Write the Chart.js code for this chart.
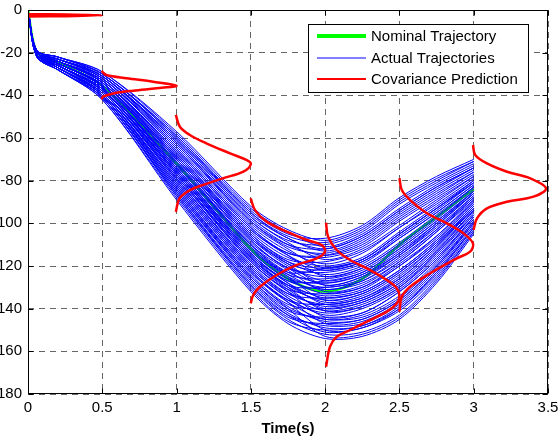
<!DOCTYPE html>
<html>
<head>
<meta charset="utf-8">
<script src="https://cdn.jsdelivr.net/npm/chart.js@4.4.1/dist/chart.umd.min.js"></script>
<style>
  html, body { margin: 0; padding: 0; background: #fff; overflow: hidden; width: 559px; height: 438px; }
  #wrap { position: absolute; left: -10px; top: 0; }
</style>
</head>
<body>
<div id="wrap"><canvas id="chart" width="569" height="438"></canvas></div>
<script>
// series names, as in the legend
var seriesNames = ["Nominal Trajectory", "Actual Trajectories", "Covariance Prediction"];

// shared time grid (s) for the nominal and the actual runs
var timeSteps = [0, 0.06, 0.2, 0.5, 1.0, 1.5, 1.75, 2.0, 2.25, 2.5, 2.75, 3.0];

var nominal = [0, -20, -24.5, -35.5, -72, -112, -126, -132, -126, -110, -97, -84];

// one row per Monte Carlo run
var actualRuns = [
  [0,-19,-22,-29,-57,-92,-103,-108,-102,-89,-79,-71],
  [0,-19,-22,-30,-59,-94,-105,-107,-101,-88,-78,-70],
  [0,-19,-22,-30,-60,-95,-107,-112,-106,-94,-83,-74],
  [0,-19,-23,-31,-61,-97,-108,-110,-104,-91,-81,-72],
  [0,-20,-23,-31,-62,-98,-110,-115,-110,-98,-87,-76],
  [0,-20,-23,-31,-63,-99,-111,-114,-108,-96,-85,-75],
  [0,-20,-23,-32,-64,-101,-113,-119,-114,-102,-91,-79],
  [0,-20,-24,-32,-65,-102,-114,-116,-111,-99,-88,-77],
  [0,-20,-24,-33,-66,-103,-115,-122,-118,-106,-94,-81],
  [0,-20,-24,-33,-67,-104,-116,-120,-116,-104,-92,-80],
  [0,-20,-24,-33,-68,-105,-118,-124,-120,-109,-96,-83],
  [0,-20,-24,-34,-69,-106,-119,-122,-118,-107,-95,-82],
  [0,-20,-24,-34,-69,-107,-120,-127,-123,-112,-99,-85],
  [0,-20,-24,-34,-70,-108,-121,-125,-121,-110,-97,-83],
  [0,-20,-25,-35,-70,-109,-121,-129,-125,-114,-101,-86],
  [0,-20,-25,-35,-71,-110,-123,-128,-124,-113,-100,-85],
  [0,-20,-25,-35,-72,-111,-124,-131,-127,-117,-103,-88],
  [0,-21,-25,-36,-73,-112,-125,-130,-126,-115,-102,-87],
  [0,-21,-25,-36,-74,-113,-126,-133,-130,-119,-106,-89],
  [0,-21,-25,-36,-74,-114,-127,-131,-128,-118,-104,-88],
  [0,-21,-25,-36,-75,-114,-128,-135,-132,-122,-108,-91],
  [0,-21,-26,-37,-76,-115,-129,-134,-131,-120,-107,-90],
  [0,-21,-26,-37,-76,-116,-129,-137,-134,-124,-110,-92],
  [0,-21,-26,-37,-77,-117,-130,-136,-133,-123,-109,-92],
  [0,-21,-26,-37,-78,-118,-132,-139,-136,-127,-112,-94],
  [0,-21,-26,-38,-79,-119,-133,-138,-135,-126,-111,-93],
  [0,-21,-26,-38,-79,-120,-134,-141,-138,-129,-114,-95],
  [0,-21,-26,-38,-80,-121,-135,-143,-140,-131,-116,-97],
  [0,-21,-27,-39,-81,-122,-136,-142,-139,-130,-115,-96],
  [0,-21,-27,-39,-82,-123,-137,-145,-143,-134,-118,-98],
  [0,-21,-27,-40,-83,-125,-139,-146,-145,-136,-120,-99],
  [0,-22,-27,-40,-84,-126,-140,-145,-144,-135,-119,-99],
  [0,-22,-27,-40,-85,-127,-142,-149,-148,-139,-123,-102],
  [0,-22,-28,-41,-86,-129,-143,-148,-147,-138,-122,-101],
  [0,-22,-28,-41,-87,-130,-145,-152,-151,-143,-126,-104],
  [0,-22,-28,-42,-89,-132,-147,-154,-153,-145,-128,-105],
  [0,-19,-23,-30,-60,-96,-107,-113,-107,-95,-84,-74],
  [0,-20,-24,-34,-68,-106,-118,-121,-117,-105,-93,-80],
  [0,-21,-26,-37,-77,-117,-131,-140,-137,-128,-113,-94],
  [0,-22,-27,-41,-86,-128,-143,-151,-149,-141,-125,-103],
  [0,-19,-22,-29,-58,-93,-104,-111,-105,-93,-82,-73],
  [0,-19,-22,-30,-59,-95,-106,-109,-103,-90,-80,-71],
  [0,-19,-23,-31,-61,-97,-109,-117,-112,-101,-89,-78],
  [0,-20,-23,-31,-62,-99,-110,-112,-106,-94,-83,-74],
  [0,-20,-23,-32,-63,-100,-112,-121,-117,-105,-93,-81],
  [0,-20,-23,-32,-65,-102,-114,-115,-109,-97,-86,-76],
  [0,-20,-24,-33,-66,-103,-115,-125,-121,-110,-97,-83],
  [0,-20,-24,-33,-67,-105,-117,-118,-113,-102,-90,-78],
  [0,-20,-24,-34,-69,-107,-119,-129,-125,-115,-101,-86],
  [0,-20,-24,-34,-70,-108,-121,-123,-119,-107,-95,-82],
  [0,-20,-25,-35,-71,-110,-122,-132,-129,-118,-104,-89],
  [0,-20,-25,-35,-72,-111,-124,-126,-122,-111,-98,-84],
  [0,-21,-25,-36,-73,-112,-125,-136,-133,-123,-109,-92],
  [0,-21,-25,-36,-74,-113,-126,-128,-124,-114,-100,-86],
  [0,-21,-25,-36,-75,-115,-128,-138,-136,-126,-111,-93],
  [0,-21,-26,-37,-76,-116,-129,-130,-127,-116,-103,-87],
  [0,-21,-26,-37,-76,-116,-130,-141,-139,-130,-114,-96],
  [0,-21,-26,-37,-77,-118,-131,-133,-130,-120,-106,-90],
  [0,-21,-26,-38,-78,-118,-132,-144,-142,-132,-117,-97],
  [0,-21,-26,-38,-79,-120,-133,-135,-132,-122,-108,-91],
  [0,-21,-26,-38,-80,-121,-135,-147,-146,-137,-121,-100],
  [0,-21,-26,-39,-81,-122,-136,-138,-135,-125,-110,-93],
  [0,-21,-27,-39,-82,-123,-137,-150,-149,-140,-124,-102],
  [0,-21,-27,-39,-83,-124,-138,-140,-137,-128,-113,-94],
  [0,-21,-27,-40,-84,-125,-140,-153,-152,-144,-127,-104],
  [0,-22,-27,-40,-85,-126,-141,-144,-142,-132,-117,-97],
  [0,-22,-28,-41,-87,-129,-144,-147,-145,-136,-120,-100],
  [0,-22,-28,-42,-88,-131,-146,-150,-148,-140,-123,-102],
  [0,-20,-25,-35,-72,-110,-123,-121,-117,-105,-93,-81],
  [0,-21,-25,-36,-75,-114,-127,-127,-123,-112,-99,-85]
];

// covariance prediction curves (time, value) at t = 0, 0.5, 1, 1.5, 2, 2.5, 3
var cov0t = [0, 0.26, 0.5, 0.26, 0];
var cov0y = [-2.0, -2.1, -2.5, -2.9, -3.0];
var cov05t = [0.495, 0.528, 0.663, 0.842, 1.0, 0.865, 0.708, 0.573, 0.505, 0.495];
var cov05y = [-28.6, -30.5, -32.0, -33.6, -35.5, -36.7, -37.8, -39.1, -40.6, -41.9];
var cov1t = [0.995, 1.022, 1.09, 1.20, 1.36, 1.47, 1.50, 1.45, 1.31, 1.18, 1.09, 1.02, 0.995];
var cov1y = [-49.2, -54.7, -58.6, -62.5, -67.2, -70.3, -72.2, -75.8, -78.9, -82, -84.4, -88.3, -94.6];
var cov15t = [1.499, 1.528, 1.606, 1.741, 1.876, 1.977, 1.999, 1.943, 1.809, 1.674, 1.561, 1.516, 1.499];
var cov15y = [-88.3, -93.8, -99.2, -103.9, -107.8, -110.2, -113.3, -116.4, -119.5, -124.2, -129.7, -133.6, -137.5];
var cov2t = [2.006, 2.02, 2.078, 2.168, 2.303, 2.415, 2.483, 2.5, 2.483, 2.415, 2.28, 2.168, 2.078, 2.033, 2.006];
var cov2y = [-99.7, -106.3, -112.5, -117.2, -121.9, -126.6, -130.5, -134.4, -137.5, -141.4, -146.1, -150, -153.2, -157.8, -167.2];
var cov25t = [2.5, 2.516, 2.572, 2.685, 2.819, 2.931, 2.995, 2.976, 2.887, 2.707, 2.572, 2.516, 2.5];
var cov25y = [-78.9, -84.4, -89.1, -95.3, -100, -104.7, -109.4, -113.3, -116.4, -123.4, -129.7, -134.4, -141.4];
var cov3t = [2.995, 3.01, 3.089, 3.224, 3.381, 3.487, 3.403, 3.224, 3.089, 3.022, 2.999];
var cov3y = [-63.3, -68, -71.9, -75.8, -78.9, -83.6, -87.5, -89.9, -93, -97.7, -103.1];

var xTicks = { min: 0, max: 3.5, step: 0.5 };
var yTicks = { min: -180, max: 0, step: 20 };

var fontFamily = "'Liberation Sans', Arial, Helvetica, sans-serif";

function toPoints(ts, ys){
  return ts.map(function(t, i){ return { x: t, y: ys[i] }; });
}

var datasets = [];

datasets.push({
  label: seriesNames[0],
  data: toPoints(timeSteps, nominal),
  borderColor: "#00ff00",
  borderWidth: 2.5,
  tension: 0.3,
  order: 3
});

actualRuns.forEach(function(run){
  datasets.push({
    label: seriesNames[1],
    data: toPoints(timeSteps, run),
    borderColor: "#0000ff",
    borderWidth: 1,
    tension: 0.3,
    order: 2
  });
});

[[cov0t, cov0y], [cov05t, cov05y], [cov1t, cov1y], [cov15t, cov15y],
 [cov2t, cov2y], [cov25t, cov25y], [cov3t, cov3y]].forEach(function(c){
  datasets.push({
    label: seriesNames[2],
    data: toPoints(c[0], c[1]),
    borderColor: "#ff0000",
    borderWidth: 2.5,
    tension: 0.35,
    order: 1
  });
});

// matlab style box, inward ticks and the legend box
var framePlugin = {
  id: "frame",
  afterDatasetsDraw: function(chart){
    var ctx = chart.ctx, a = chart.chartArea;
    var l = Math.round(a.left) + 0.5, r = Math.round(a.right) - 0.5;
    var t = Math.round(a.top) + 0.5, b = Math.round(a.bottom) - 0.5;
    ctx.save();
    ctx.strokeStyle = "#000";
    ctx.lineWidth = 1;
    ctx.strokeRect(l, t, r - l, b - t);
    ctx.beginPath();
    chart.scales.x.ticks.forEach(function(tk){
      var px = Math.round(chart.scales.x.getPixelForValue(tk.value)) + 0.5;
      ctx.moveTo(px, b); ctx.lineTo(px, b - 5);
      ctx.moveTo(px, t); ctx.lineTo(px, t + 5);
    });
    chart.scales.y.ticks.forEach(function(tk){
      var py = Math.round(chart.scales.y.getPixelForValue(tk.value)) + 0.5;
      ctx.moveTo(l, py); ctx.lineTo(l + 5, py);
      ctx.moveTo(r, py); ctx.lineTo(r - 5, py);
    });
    ctx.stroke();
    ctx.restore();
  },
  afterDraw: function(chart){
    var ctx = chart.ctx;
    var box = { x: 318.5, y: 24.5, w: 220, h: 68 };
    var rows = [
      { y: 36, color: "#00ff00", width: 4 },
      { y: 58, color: "#0000ff", width: 1 },
      { y: 79, color: "#ff0000", width: 2 }
    ];
    ctx.save();
    ctx.fillStyle = "#fff";
    ctx.fillRect(box.x, box.y, box.w, box.h);
    ctx.strokeStyle = "#000";
    ctx.lineWidth = 1;
    ctx.strokeRect(box.x, box.y, box.w, box.h);
    ctx.font = "15px " + fontFamily;
    ctx.textBaseline = "middle";
    ctx.textAlign = "left";
    rows.forEach(function(row, i){
      ctx.beginPath();
      ctx.strokeStyle = row.color;
      ctx.lineWidth = row.width;
      ctx.moveTo(327, row.y);
      ctx.lineTo(376, row.y);
      ctx.stroke();
      ctx.fillStyle = "#000";
      ctx.fillText(seriesNames[i], 381, row.y + 1);
    });
    ctx.restore();
  }
};

new Chart(document.getElementById("chart"), {
  type: "line",
  data: { datasets: datasets },
  plugins: [framePlugin],
  options: {
    responsive: false,
    animation: false,
    events: [],
    layout: { padding: { left: 0, right: 11, top: 10, bottom: 0 } },
    elements: { point: { radius: 0 } },
    plugins: {
      legend: { display: false },
      title: { display: false },
      tooltip: { enabled: false }
    },
    scales: {
      x: {
        type: "linear",
        min: xTicks.min,
        max: xTicks.max,
        afterFit: function(s){ s.height = 44; s.paddingLeft = 0; s.paddingRight = 0; },
        ticks: {
          stepSize: xTicks.step,
          color: "#000",
          padding: 5,
          maxRotation: 0,
          font: { family: fontFamily, size: 15 },
          callback: function(v){ return String(Math.round(v * 10) / 10); }
        },
        grid: { color: "rgba(0,0,0,0.6)", lineWidth: 1, drawTicks: false },
        border: { display: false, dash: [6, 5] },
        title: {
          display: true,
          text: "Time(s)",
          color: "#000",
          padding: { top: 0, bottom: 0 },
          font: { family: fontFamily, size: 15, weight: "bold" }
        }
      },
      y: {
        type: "linear",
        min: yTicks.min,
        max: yTicks.max,
        afterFit: function(s){ s.width = 38; s.paddingTop = 0; s.paddingBottom = 0; },
        ticks: {
          stepSize: yTicks.step,
          color: "#000",
          padding: 6,
          font: { family: fontFamily, size: 15 }
        },
        grid: { color: "rgba(0,0,0,0.6)", lineWidth: 1, drawTicks: false },
        border: { display: false, dash: [6, 5] }
      }
    }
  }
});
</script>
</body>
</html>
